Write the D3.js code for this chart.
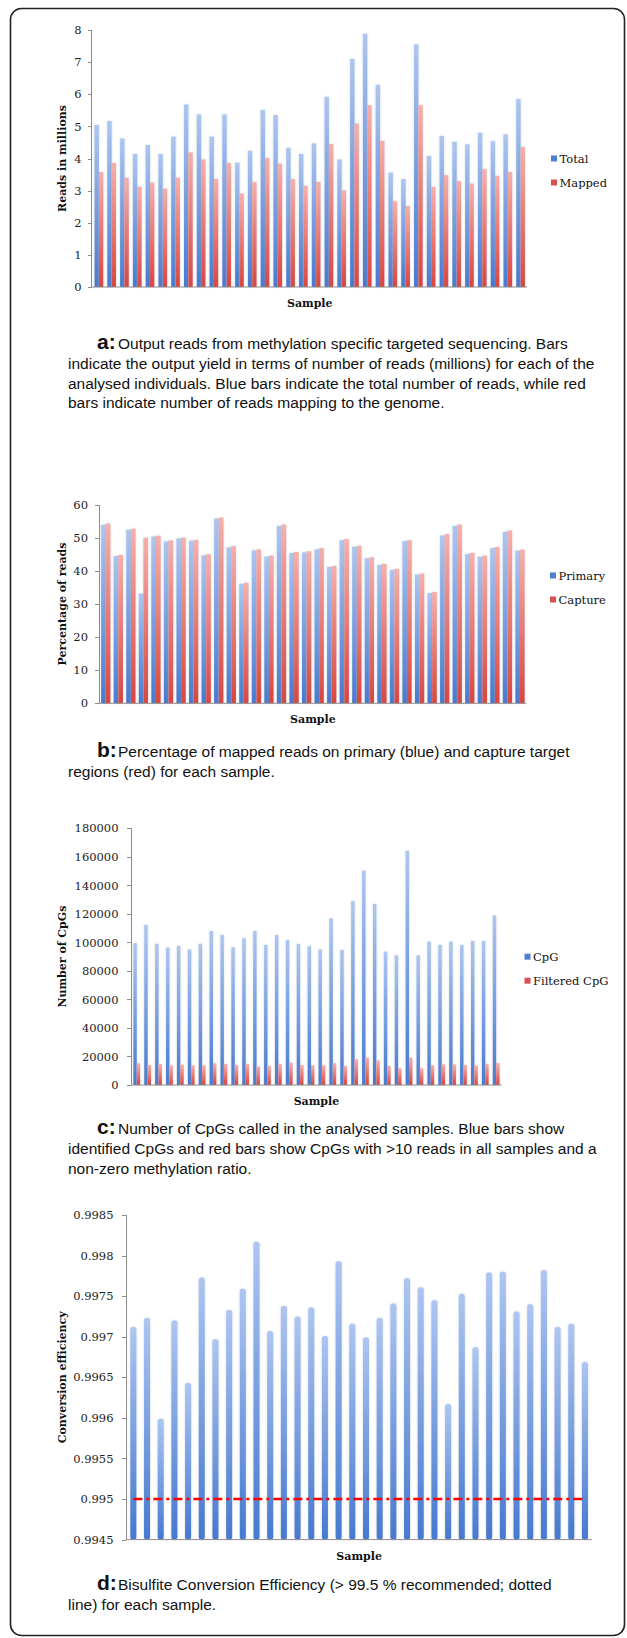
<!DOCTYPE html>
<html>
<head>
<meta charset="utf-8">
<script src="https://cdn.jsdelivr.net/npm/d3@7"></script>
<style>
  html, body { margin: 0; padding: 0; background: #fff; }
  svg { display: block; }
  .tick text { font-family: "DejaVu Serif", serif; font-size: 11.5px; fill: #222; }
  .axis path, .axis line { stroke: #8c8c8c; shape-rendering: crispEdges; }
  .title { font-family: "DejaVu Serif", serif; font-weight: bold; font-size: 11px; fill: #111; }
  .legend text { font-family: "DejaVu Serif", serif; font-size: 11.5px; fill: #111; }
  .caption { font-family: "Liberation Sans", Arial, sans-serif; font-size: 15.5px; fill: #111; }
  .caption .lab { font-weight: bold; font-size: 21px; }
</style>
</head>
<body>
<svg id="fig" width="627" height="1638"></svg>
<script>
// samples 1..34
var samples = d3.range(1, 35);

// a: output reads (millions)
var totalReads  = [5.04, 5.17, 4.62, 4.14, 4.42, 4.14, 4.68, 5.68, 5.37, 4.68, 5.37, 3.87, 4.24, 5.51, 5.35, 4.33, 4.14, 4.47,
                   5.92, 3.97, 7.10, 7.88, 6.29, 3.56, 3.36, 7.55, 4.08, 4.70, 4.52, 4.44, 4.80, 4.54, 4.75, 5.85];
var mappedReads = [3.58, 3.86, 3.40, 3.12, 3.25, 3.06, 3.40, 4.19, 3.97, 3.36, 3.86, 2.91, 3.27, 4.02, 3.84, 3.36, 3.15, 3.27,
                   4.45, 3.01, 5.09, 5.66, 4.55, 2.67, 2.52, 5.66, 3.12, 3.48, 3.30, 3.22, 3.67, 3.46, 3.58, 4.36];
var readTicks = [0, 1, 2, 3, 4, 5, 6, 7, 8];

// b: percentage of mapped reads
var primaryPct = [53.9, 44.5, 52.4, 33.1, 50.4, 48.9, 49.8, 49.1, 44.7, 55.8, 47.1, 36.1, 46.2, 44.3, 53.6, 45.4, 45.6,
                  46.5, 41.2, 49.3, 47.3, 43.8, 41.8, 40.3, 49.0, 38.9, 33.3, 50.7, 53.6, 45.1, 44.3, 46.9, 51.8, 46.1];
var capturePct = [54.3, 44.8, 52.7, 50.0, 50.6, 49.2, 50.0, 49.4, 45.0, 56.1, 47.5, 36.4, 46.5, 44.6, 54.0, 45.7, 45.9,
                  46.9, 41.5, 49.6, 47.6, 44.1, 42.1, 40.6, 49.3, 39.2, 33.6, 51.1, 54.0, 45.4, 44.6, 47.2, 52.2, 46.4];
var pctTicks = [0, 10, 20, 30, 40, 50, 60];

// c: number of CpGs
var cpgCount = [99400, 112200, 99000, 96300, 97500, 95100, 99000, 108000, 105200, 96500, 102900, 108000, 98200, 105200,
                101700, 98900, 97300, 95100, 116900, 94700, 129000, 150300, 126900, 93500, 90900, 164300, 90900,
                100500, 98200, 100500, 98200, 101000, 101000, 118800];
var filteredCount = [15200, 14000, 14700, 13800, 14300, 13800, 13800, 15200, 14700, 14000, 14700, 12900, 13300, 14700,
                     15700, 14000, 13800, 13800, 15200, 13300, 18000, 19200, 17100, 13300, 11700, 19200, 11700,
                     13800, 14500, 14500, 14000, 13600, 14700, 15400];
var cpgTicks = [0, 20000, 40000, 60000, 80000, 100000, 120000, 140000, 160000, 180000];

// d: bisulfite conversion efficiency
var efficiency = [0.99712, 0.99723, 0.99599, 0.99720, 0.99643, 0.99773, 0.99697, 0.99733, 0.99759, 0.99817, 0.99707,
                  0.99738, 0.99725, 0.99736, 0.99701, 0.99793, 0.99716, 0.99699, 0.99723, 0.99741, 0.99772, 0.99761,
                  0.99745, 0.99617, 0.99753, 0.99687, 0.99779, 0.99780, 0.99731, 0.99740, 0.99782, 0.99712, 0.99716,
                  0.99669];
var threshold = 0.995;
var effTicks = [0.9945, 0.995, 0.9955, 0.996, 0.9965, 0.997, 0.9975, 0.998, 0.9985];
var effLabels = ["0.9945", "0.995", "0.9955", "0.996", "0.9965", "0.997", "0.9975", "0.998", "0.9985"];

var captions = {
  a: ["Output reads from methylation specific targeted sequencing. Bars",
      "indicate the output yield in terms of number of reads (millions) for each of the",
      "analysed individuals. Blue bars indicate the total number of reads, while red",
      "bars indicate number of reads mapping to the genome."],
  b: ["Percentage of mapped reads on primary (blue) and capture target",
      "regions (red) for each sample."],
  c: ["Number of CpGs called in the analysed samples. Blue bars show",
      "identified CpGs and red bars show CpGs with >10 reads in all samples and a",
      "non-zero methylation ratio."],
  d: ["Bisulfite Conversion Efficiency (> 99.5 % recommended; dotted",
      "line) for each sample."]
};

var svg = d3.select("#fig");
var defs = svg.append("defs");

function gradient(id, top, bottom) {
    var lg = defs.append("linearGradient").attr("id", id).attr("x1", 0).attr("y1", 0).attr("x2", 0).attr("y2", 1);
    lg.append("stop").attr("offset", "0%").attr("stop-color", top);
    lg.append("stop").attr("offset", "100%").attr("stop-color", bottom);
}
gradient("blue", "#adc6f1", "#4679cf");
gradient("red", "#f5b0ac", "#d8463f");

var glow = defs.append("filter").attr("id", "glow").attr("x", "-50%").attr("y", "-5%").attr("width", "200%").attr("height", "110%");
glow.append("feDropShadow").attr("dx", 0).attr("dy", 0).attr("stdDeviation", 1.1)
    .attr("flood-color", "#9aa3b5").attr("flood-opacity", 0.45);

// outer frame
svg.append("rect").attr("x", 10.5).attr("y", 8.5).attr("width", 614).attr("height", 1627)
    .attr("rx", 11).attr("fill", "none").attr("stroke", "#222").attr("stroke-width", 1.6);

function drawChart(o) {
    var g = svg.append("g");
    var x = d3.scaleBand().domain(samples).range(o.xr).paddingInner(o.pad).paddingOuter(o.pad / 2);
    var y = d3.scaleLinear().domain([o.ticks[0], o.ticks[o.ticks.length - 1]]).range(o.yr);
    var x1 = d3.scaleBand().domain(d3.range(o.series.length)).range([0, x.bandwidth()]);

    o.series.forEach(function(s, k) {
        g.append("g").attr("filter", "url(#glow)")
            .selectAll("rect").data(s.values).enter().append("rect")
            .attr("x", function(d, i) { return x(samples[i]) + x1(k); })
            .attr("y", function(d) { return y(d); })
            .attr("width", x1.bandwidth())
            .attr("height", function(d) { return y(o.ticks[0]) - y(d); })
            .attr("rx", o.round || 0)
            .attr("fill", "url(#" + s.color + ")");
    });

    if (o.line) {
        var line = d3.line()
            .x(function(d, i) { return x(samples[i]) + x.bandwidth() / 2; })
            .y(function(d) { return y(d); });
        g.append("path").datum(samples.map(function() { return o.line; }))
            .attr("d", line).attr("fill", "none").attr("stroke", "#ff0000")
            .attr("stroke-width", 2.4).attr("stroke-dasharray", "9,4,3,4");
    }

    var yAxis = d3.axisLeft(y).tickValues(o.ticks).tickSize(4).tickSizeOuter(0).tickPadding(o.tp)
        .tickFormat(function(d, i) { return o.labels ? o.labels[i] : d; });
    g.append("g").attr("class", "axis").attr("transform", "translate(" + o.ax + ",0)").call(yAxis);
    g.select(".axis .domain").attr("d", "M0," + o.yr[1] + "V" + o.yr[0]);

    g.append("line").attr("class", "axis")
        .attr("x1", o.ax).attr("x2", o.xr[1]).attr("y1", o.yr[0]).attr("y2", o.yr[0])
        .attr("stroke", "#8c8c8c");

    var cy = (o.yr[0] + o.yr[1]) / 2;
    g.append("text").attr("class", "title").attr("text-anchor", "middle")
        .attr("transform", "translate(66," + cy + ") rotate(-90)").text(o.yTitle);
    g.append("text").attr("class", "title").attr("text-anchor", "middle")
        .attr("x", (o.xr[0] + o.xr[1]) / 2).attr("y", o.yr[0] + 20).text("Sample");

    if (o.legend) {
        var lg = g.append("g").attr("class", "legend");
        o.series.forEach(function(s, k) {
            var ly = o.legendY + k * 24;
            lg.append("rect").attr("x", o.legend).attr("y", ly - 3).attr("width", 6).attr("height", 6)
                .attr("fill", s.color == "blue" ? "#4f80cf" : "#d9534e");
            lg.append("text").attr("x", o.legend + 8.5).attr("y", ly + 4.5).text(s.name);
        });
    }

    var cap = svg.append("text").attr("class", "caption");
    var lines = captions[o.id];
    lines.forEach(function(t, i) {
        var yy = o.capY + i * 19.8;
        if (i == 0) {
            cap.append("tspan").attr("class", "lab").attr("x", 97).attr("y", yy).text(o.id + ":");
            cap.append("tspan").attr("x", 118).attr("y", yy).text(t);
        } else {
            cap.append("tspan").attr("x", 68).attr("y", yy).text(t);
        }
    });
}

drawChart({
    id: "a", xr: [92.5, 527], yr: [287, 30], ax: 91.5, pad: 0.32, tp: 6, ticks: readTicks,
    yTitle: "Reads in millions", legend: 551, legendY: 158.5, capY: 349,
    series: [{ name: "Total", values: totalReads, color: "blue" }, { name: "Mapped", values: mappedReads, color: "red" }]
});
drawChart({
    id: "b", xr: [99.5, 526.3], yr: [703.3, 504.7], ax: 99, pad: 0.26, tp: 7, ticks: pctTicks,
    yTitle: "Percentage of reads", legend: 550, legendY: 575.5, capY: 757,
    series: [{ name: "Primary", values: primaryPct, color: "blue" }, { name: "Capture", values: capturePct, color: "red" }]
});
drawChart({
    id: "c", xr: [131.3, 501.6], yr: [1085, 828.3], ax: 131, pad: 0.38, tp: 8.5, ticks: cpgTicks,
    yTitle: "Number of CpGs", legend: 524.5, legendY: 956.7, capY: 1134,
    series: [{ name: "CpG", values: cpgCount, color: "blue" }, { name: "Filtered CpG", values: filteredCount, color: "red" }]
});
drawChart({
    id: "d", xr: [126.5, 591.8], yr: [1539.6, 1215], ax: 126, pad: 0.56, tp: 8.5, ticks: effTicks, labels: effLabels,
    yTitle: "Conversion efficiency", capY: 1590, round: 2.5, line: threshold,
    series: [{ name: "Efficiency", values: efficiency, color: "blue" }]
});
</script>
</body>
</html>
